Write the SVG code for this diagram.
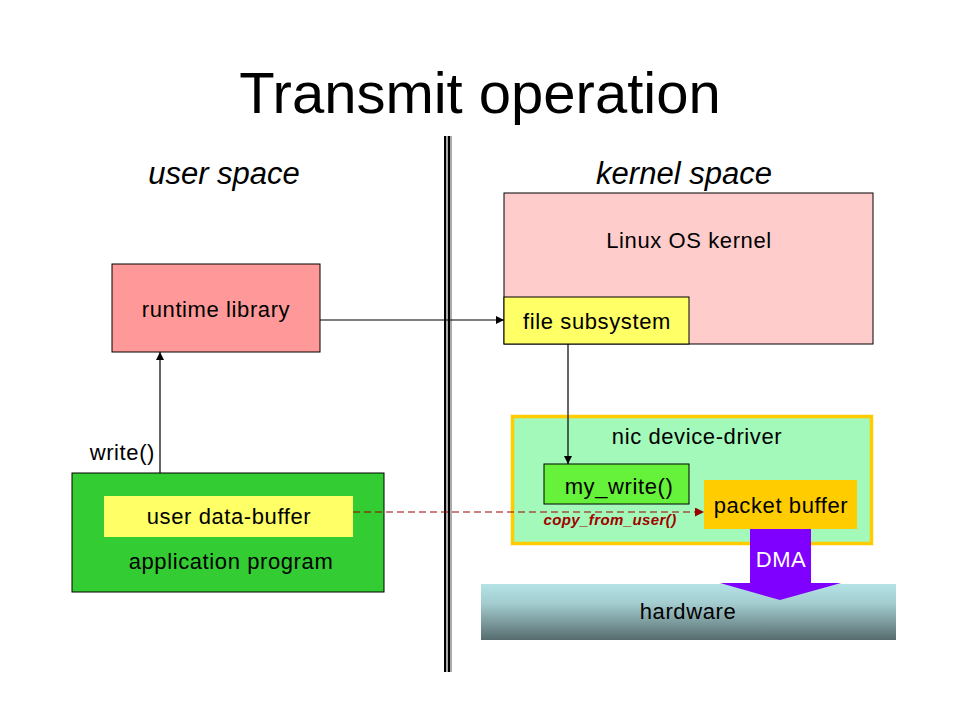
<svg xmlns="http://www.w3.org/2000/svg" width="960" height="720" viewBox="0 0 960 720">
<defs>
<style>
text{font-family:"Liberation Sans",Arial,sans-serif;fill:#000}
.lbl{font-size:22px;letter-spacing:0.6px;text-anchor:middle}
.box{stroke:#000;stroke-width:1}
.conn{stroke:#000;stroke-width:1.2;fill:none}
</style>
<marker id="ah" viewBox="0 0 10 10" refX="10" refY="5" markerWidth="8" markerHeight="8" markerUnits="userSpaceOnUse" orient="auto">
<path d="M0,0 L10,5 L0,10 z" fill="#000"/>
</marker>
<marker id="ahr" viewBox="0 0 10 10" refX="10" refY="5" markerWidth="9" markerHeight="9" markerUnits="userSpaceOnUse" orient="auto">
<path d="M0,0 L10,5 L0,10 z" fill="#990000"/>
</marker>
<linearGradient id="hw" x1="0" y1="0" x2="0" y2="1">
<stop offset="0" stop-color="#B4E3E6"/>
<stop offset="0.35" stop-color="#A3CCCF"/>
<stop offset="1" stop-color="#566C6E"/>
</linearGradient>
</defs>
<rect width="960" height="720" fill="#fff"/>
<text x="480" y="113" font-size="58" text-anchor="middle">Transmit operation</text>
<text x="224" y="184" font-size="31" font-style="italic" text-anchor="middle">user space</text>
<text x="684" y="184" font-size="31" font-style="italic" text-anchor="middle">kernel space</text>
<g id="divider">
<rect x="444" y="136" width="8" height="536" fill="#AAAAAA"/>
<rect x="444" y="136" width="2" height="536" fill="#000"/>
<rect x="448" y="136" width="2" height="536" fill="#000"/>
</g>
<g id="kernel">
<rect x="504" y="193" width="369" height="151" fill="#FFCCCC" class="box"/>
<text x="689" y="248" class="lbl">Linux OS kernel</text>
</g>
<g id="filesys">
<rect x="504" y="297" width="185" height="47" fill="#FFFF66" class="box"/>
<text x="597" y="329" class="lbl">file subsystem</text>
</g>
<g id="runtime">
<rect x="112" y="264" width="208" height="88" fill="#FF9999" class="box"/>
<text x="216" y="317" class="lbl">runtime library</text>
</g>
<g id="app">
<rect x="72" y="473" width="312" height="119" fill="#33CC33" class="box"/>
<text x="231" y="569" class="lbl">application program</text>
</g>
<g id="userbuf">
<rect x="104" y="496" width="249" height="41" fill="#FFFF66"/>
<text x="229" y="524" class="lbl">user data-buffer</text>
</g>
<g id="nic">
<rect x="512.5" y="416.5" width="359" height="127" fill="#A3F9B9" stroke="#FFCC00" stroke-width="3.5"/>
<text x="697" y="444" class="lbl">nic device-driver</text>
</g>
<g id="mywrite">
<rect x="544" y="464" width="145" height="40" fill="#66F23A" class="box"/>
<text x="619" y="494" class="lbl">my_write()</text>
</g>
<g id="pktbuf">
<rect x="704" y="480" width="153" height="49" fill="#FFCC00"/>
<text x="781" y="513" class="lbl">packet buffer</text>
</g>
<g id="hardware">
<rect x="481" y="584" width="415" height="56" fill="url(#hw)"/>
<text x="688" y="619" class="lbl">hardware</text>
</g>
<g id="connectors">
<line x1="160" y1="473" x2="160" y2="352" class="conn" marker-end="url(#ah)"/>
<line x1="320" y1="320" x2="504" y2="320" class="conn" marker-end="url(#ah)"/>
<line x1="568" y1="344" x2="568" y2="464" class="conn" marker-end="url(#ah)"/>
<line x1="353" y1="512" x2="704" y2="512" stroke="#990000" stroke-width="1.2" stroke-dasharray="7,4" fill="none" marker-end="url(#ahr)"/>
<path id="dma" d="M750,529 L811,529 L811,583 L841,583 L780,600 L720,583 L750,583 Z" fill="#8000FF"/>
<text x="781" y="567" font-size="22" letter-spacing="0.6" text-anchor="middle" style="fill:#fff">DMA</text>
<text x="610" y="525" font-size="15" letter-spacing="0.4" font-weight="bold" font-style="italic" text-anchor="middle" style="fill:#A00000">copy_from_user()</text>
<text x="155" y="460" font-size="22" letter-spacing="0.6" text-anchor="end">write()</text>
</g>
</svg>
